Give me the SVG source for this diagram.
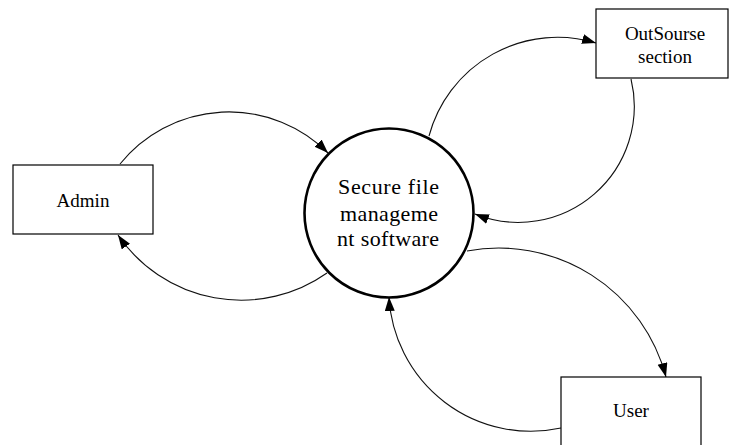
<svg xmlns="http://www.w3.org/2000/svg" width="729" height="445" viewBox="0 0 729 445">
  <style>
    .box { fill: #fff; stroke: #000; stroke-width: 1.2; }
    .proc { fill: #fff; stroke: #000; stroke-width: 2.6; }
    .flow { fill: none; stroke: #111; stroke-width: 1.1; marker-end: url(#arrow); }
    .lbl { font-family: "Liberation Serif", "Times New Roman", serif; fill: #000; text-anchor: middle; }
    .small { font-size: 19px; }
    .big { font-size: 22px; }
  </style>
  <defs>
    <marker id="arrow" markerUnits="userSpaceOnUse" markerWidth="16" markerHeight="12" refX="14" refY="5" orient="auto">
      <path d="M0,0 L14,5 L0,10 z" fill="#000"/>
    </marker>
  </defs>
  <rect width="729" height="445" fill="#fff"/>

  <!-- data flows -->
  <g id="connectors">
    <path class="flow" d="M120,164 A140,140 0 0 1 328,153"/>
    <path class="flow" d="M327,273 A149,149 0 0 1 118,235"/>
    <path class="flow" d="M429,136 A133,133 0 0 1 596,43"/>
    <path class="flow" d="M631,79 A116,116 0 0 1 475,214"/>
    <path class="flow" d="M467,251 A173,173 0 0 1 666,377"/>
    <path class="flow" d="M561,428 A142,142 0 0 1 389,297"/>
  </g>

  <g id="process">
    <circle class="proc" cx="389" cy="213" r="84.5"/>
    <text class="lbl big" x="388.5" y="194" textLength="101" lengthAdjust="spacing">Secure file</text>
    <text class="lbl big" x="389" y="221" textLength="98" lengthAdjust="spacing">manageme</text>
    <text class="lbl big" x="388" y="246" textLength="102" lengthAdjust="spacing">nt software</text>
  </g>

  <g id="admin">
    <rect class="box" x="13" y="165" width="140" height="69"/>
    <text class="lbl small" x="83" y="207">Admin</text>
  </g>

  <g id="outsource">
    <rect class="box" x="596" y="9" width="132" height="69"/>
    <text class="lbl small" x="665" y="40">OutSourse</text>
    <text class="lbl small" x="665" y="63">section</text>
  </g>

  <g id="user">
    <rect class="box" x="561" y="377" width="140" height="80"/>
    <text class="lbl small" x="631" y="417">User</text>
  </g>
</svg>
